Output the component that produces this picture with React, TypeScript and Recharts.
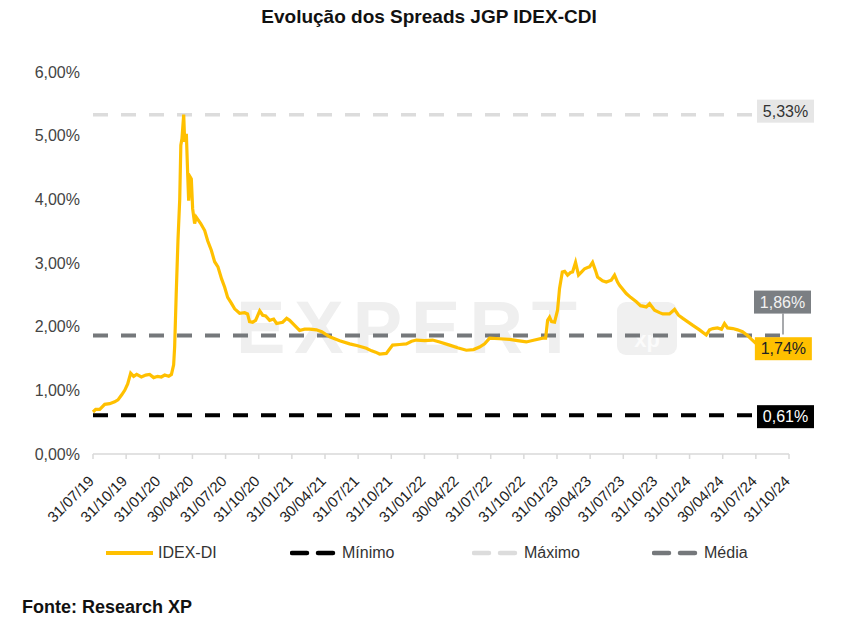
import React from 'react';
import { LineChart, Line, XAxis, YAxis, ReferenceLine, LabelList } from 'recharts';

const FONT = '"Liberation Sans", Arial, Helvetica, sans-serif';

const tickLabels = [
  '31/07/19', '31/10/19', '31/01/20', '30/04/20', '31/07/20', '31/10/20', '31/01/21', '30/04/21',
  '31/07/21', '31/10/21', '31/01/22', '30/04/22', '31/07/22', '31/10/22', '31/01/23', '30/04/23',
  '31/07/23', '31/10/23', '31/01/24', '30/04/24', '31/07/24', '31/10/24',
];
const tickMonths = [0, 3, 6, 9, 12, 15, 18, 21, 24, 27, 30, 33, 36, 39, 42, 45, 48, 51, 54, 57, 60, 63];
const yTicks = [0, 1, 2, 3, 4, 5, 6];

// months elapsed since 31/07/19
const months = [
  0, 0.24, 0.61, 1.06, 1.51, 1.96, 2.26, 2.6, 2.87, 3.14, 3.41, 3.68, 3.95, 4.38, 4.77, 5.13, 5.49, 5.86,
  6.19, 6.49, 6.85, 7.1, 7.3, 7.39, 7.53, 7.69, 7.85, 7.95, 8.05, 8.21, 8.3, 8.45, 8.57, 8.66, 8.8, 8.9,
  9.02, 9.2, 9.34, 9.5, 9.75, 10.11, 10.38, 10.71, 11.01, 11.31, 11.64, 11.92, 12.19, 12.52, 12.82, 13.27,
  13.72, 13.99, 14.17, 14.45, 14.72, 15.09, 15.36, 15.63, 15.99, 16.35, 16.62, 17.17, 17.53, 17.8, 18.25,
  18.7, 19.15, 19.61, 20.22, 20.7, 21.42, 22.33, 23.23, 23.96, 24.74, 25.22, 25.58, 25.94, 26.55, 26.85,
  27.12, 27.75, 28.36, 28.84, 29.27, 30.02, 30.74, 31.38, 32.28, 33.0, 33.79, 34.45, 34.99, 35.45, 35.9,
  36.8, 37.71, 38.43, 39.22, 39.97, 40.7, 40.97, 41.15, 41.33, 41.51, 41.78, 42.05, 42.23, 42.48, 42.69,
  42.96, 43.23, 43.41, 43.68, 43.95, 44.23, 44.5, 44.77, 44.95, 45.22, 45.49, 45.67, 46.12, 46.46, 46.91,
  47.21, 47.48, 47.66, 48.27, 48.66, 49.18, 49.56, 50.08, 50.38, 50.83, 51.28, 51.58, 52.18, 52.64, 53.0,
  53.39, 53.81, 54.3, 54.9, 55.51, 55.81, 56.11, 56.53, 56.89, 57.16, 57.44, 57.92, 58.34, 58.79, 59.25,
  59.61, 60.0,
];
const spread = [
  0.66, 0.7, 0.7, 0.78, 0.79, 0.82, 0.85, 0.93, 1.0, 1.1, 1.27, 1.22, 1.25, 1.21, 1.24, 1.25, 1.2, 1.22,
  1.21, 1.24, 1.22, 1.25, 1.4, 1.68, 2.5, 3.35, 4.0, 4.85, 4.95, 5.33, 4.9, 5.03, 4.4, 3.98, 4.35, 4.32,
  3.85, 3.62, 3.72, 3.68, 3.62, 3.51, 3.35, 3.2, 3.02, 2.94, 2.75, 2.62, 2.46, 2.37, 2.28, 2.21,
  2.22, 2.2, 2.08, 2.07, 2.1, 2.25, 2.18, 2.17, 2.1, 2.12, 2.05, 2.07, 2.13, 2.1, 2.02,
  1.94, 1.96, 1.96, 1.95, 1.92, 1.84, 1.78, 1.73, 1.7, 1.66, 1.62, 1.6, 1.57, 1.58, 1.65,
  1.71, 1.72, 1.73, 1.77, 1.79, 1.78, 1.79, 1.76, 1.71, 1.67, 1.63, 1.64, 1.68, 1.73, 1.82,
  1.81, 1.8, 1.78, 1.76, 1.79, 1.82, 1.82, 2.1, 2.15, 2.08, 2.07, 2.26, 2.6, 2.86, 2.87,
  2.81, 2.85, 2.86, 3.01, 2.81, 2.86, 2.91, 2.93, 2.94, 3.01, 2.88, 2.78, 2.72, 2.7, 2.73,
  2.81, 2.7, 2.65, 2.52, 2.46, 2.39, 2.33, 2.31, 2.36, 2.26, 2.22, 2.2, 2.2, 2.27, 2.18,
  2.13, 2.08, 2.02, 1.95, 1.87, 1.95, 1.97, 1.98, 1.96, 2.05, 1.98, 1.97, 1.95, 1.92, 1.86,
  1.8, 1.74,
];

const minimo = 0.61;
const maximo = 5.33;
const media = 1.86;

const data = months.map((m, i) => ({ m, v: spread[i] }));

const pct = (v: number) => v.toFixed(2).replace('.', ',') + '%';

const BoxLabel = (props: any) => {
  const { viewBox, text, fill, color, dx, dy, connector } = props;
  if (!viewBox) return null;
  const bx = viewBox.x + viewBox.width + dx;
  const by = viewBox.y + dy;
  return (
    <g>
      {connector && (
        <line x1={bx + 29} y1={by + 23} x2={bx + 29} y2={viewBox.y - 1} stroke="#8a8d90" strokeWidth={1.5} />
      )}
      <rect x={bx} y={by} width={57} height={23} fill={fill} />
      <text x={bx + 28.5} y={by + 17} textAnchor="middle" fontSize={16} fontFamily={FONT} fill={color}>
        {text}
      </text>
    </g>
  );
};

const LastLabel = (props: any) => {
  const { x, y, index } = props;
  if (index !== data.length - 1) return null;
  const bx = x - 1;
  const by = y - 6;
  return (
    <g>
      <rect x={bx} y={by} width={57} height={23} fill="#FFC000" />
      <text x={bx + 28.5} y={by + 17} textAnchor="middle" fontSize={16} fontFamily={FONT} fill="#222">
        {pct(spread[spread.length - 1])}
      </text>
    </g>
  );
};

const XTick = (props: any) => {
  const { x, y, payload } = props;
  const idx = tickMonths.indexOf(payload.value);
  return (
    <g transform={`translate(${x + 2},${y + 21})`}>
      <text x={0} y={0} textAnchor="end" transform="rotate(-45)" fontSize={15} fontFamily={FONT} fill="#1e1e1e">
        {tickLabels[idx]}
      </text>
    </g>
  );
};

const LegendItem = ({ left, color, dashed, label, thick }: any) => (
  <div style={{ position: 'absolute', left, top: 543, height: 20, display: 'flex', alignItems: 'center' }}>
    <svg width={50} height={20} style={{ display: 'block' }}>
      {dashed ? (
        <line x1={2} y1={10} x2={44} y2={10} stroke={color} strokeWidth={thick} strokeDasharray="15 11" strokeLinecap="round" />
      ) : (
        <line x1={0} y1={10} x2={47} y2={10} stroke={color} strokeWidth={4} />
      )}
    </svg>
    <span style={{ fontFamily: FONT, fontSize: 16, color: '#333', marginLeft: 2 }}>{label}</span>
  </div>
);

export default function App() {
  return (
    <div style={{ position: 'absolute', left: 0, top: 0, width: 841, height: 630, background: '#fff', overflow: 'hidden' }}>
      {/* watermark */}
      <div
        style={{
          position: 'absolute', left: 236, top: 288, fontFamily: FONT, fontWeight: 900, fontSize: 74,
          letterSpacing: 9, color: '#efefef', lineHeight: '80px',
        }}
      >
        EXPERT
      </div>
      <div
        style={{
          position: 'absolute', left: 617, top: 302, width: 60, height: 53, borderRadius: 9, background: '#f0f0f0',
          fontFamily: FONT, fontWeight: 700, fontSize: 22, color: '#fbfbfb', display: 'flex', alignItems: 'flex-end',
          justifyContent: 'center', paddingBottom: 2, boxSizing: 'border-box',
        }}
      >
        xp
      </div>

      <div
        style={{
          position: 'absolute', left: 0, top: 6, width: 858, textAlign: 'center', fontFamily: FONT, fontWeight: 700,
          fontSize: 19, color: '#111',
        }}
      >
        Evolução dos Spreads JGP IDEX-CDI
      </div>

      <div style={{ position: 'absolute', left: 0, top: 0 }}>
        <LineChart width={841} height={630} data={data} margin={{ top: 72, right: 52, left: 33, bottom: 106 }}>
          <XAxis
            dataKey="m"
            type="number"
            domain={[0, 63]}
            ticks={tickMonths}
            interval={0}
            height={70}
            axisLine={{ stroke: '#d9d9d9', strokeWidth: 1.5 }}
            tickLine={{ stroke: '#d9d9d9', strokeWidth: 1.5 }}
            tickSize={5}
            tick={<XTick />}
          />
          <YAxis
            type="number"
            domain={[0, 6]}
            ticks={yTicks}
            width={60}
            axisLine={false}
            tickLine={false}
            tickSize={0}
            tickMargin={13}
            tickFormatter={pct}
            tick={{ fontSize: 16, fontFamily: FONT, fill: '#444' }}
          />
          <ReferenceLine
            y={maximo}
            stroke="#dcdcdc"
            strokeWidth={3.5}
            strokeDasharray="15 13"
            label={<BoxLabel text={pct(maximo)} fill="#e6e6e6" color="#333" dx={-32} dy={-15} />}
          />
          <ReferenceLine
            y={minimo}
            stroke="#000"
            strokeWidth={4}
            strokeDasharray="15 13"
            label={<BoxLabel text={pct(minimo)} fill="#000" color="#fff" dx={-32} dy={-10} />}
          />
          <ReferenceLine
            y={media}
            stroke="#75787b"
            strokeWidth={4}
            strokeDasharray="15 13"
            label={<BoxLabel text={pct(media)} fill="#7b7f83" color="#f2f2f2" dx={-35} dy={-45} connector />}
          />
          <Line
            type="linear"
            dataKey="v"
            stroke="#FFC000"
            strokeWidth={3.2}
            dot={false}
            isAnimationActive={false}
          >
            <LabelList dataKey="v" content={<LastLabel />} />
          </Line>
        </LineChart>
      </div>

      <LegendItem left={106} color="#FFC000" label="IDEX-DI" />
      <LegendItem left={290} color="#000" dashed thick={4.5} label="Mínimo" />
      <LegendItem left={472} color="#dcdcdc" dashed thick={4.5} label="Máximo" />
      <LegendItem left={652} color="#75787b" dashed thick={4.5} label="Média" />

      <div
        style={{
          position: 'absolute', left: 22, top: 597, fontFamily: FONT, fontWeight: 700, fontSize: 18, color: '#111',
        }}
      >
        Fonte: Research XP
      </div>
    </div>
  );
}
